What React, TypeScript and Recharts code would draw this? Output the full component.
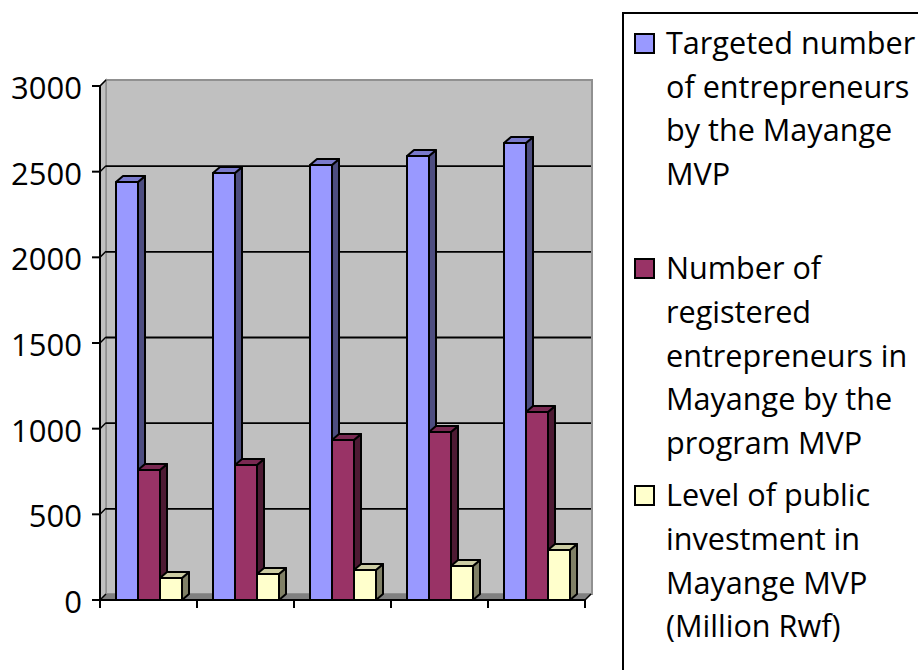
import { BarChart, Bar, XAxis, YAxis, Legend, ReferenceArea } from "recharts";

const categories = ["A", "B", "C", "D", "E"];
const targeted = [2440, 2492, 2539, 2591, 2667];
const registered = [759, 788, 934, 981, 1097];
const investment = [128, 152, 175, 198, 292];
const yTicks = [0, 500, 1000, 1500, 2000, 2500, 3000];

const seriesLines = [
  ["Targeted number", "of entrepreneurs", "by the Mayange", "MVP"],
  ["Number of", "registered", "entrepreneurs in", "Mayange by the", "program MVP"],
  ["Level of public", "investment in", "Mayange MVP", "(Million Rwf)"],
];

const seriesNames = seriesLines.map((lines) => lines.join(" "));
const seriesKeys = ["targeted", "registered", "investment"];
const seriesColors = ["#9999FF", "#993366", "#FFFFCC"];
const topColors = ["#7A7ACC", "#7A2952", "#CCCCA3"];
const sideColors = ["#4D4D80", "#4D1A33", "#808066"];

const data = categories.map((name, i) => ({
  name,
  targeted: targeted[i],
  registered: registered[i],
  investment: investment[i],
}));

const DEPTH_X = 7;
const DEPTH_Y = 6;
const FONT = '"Open Sans", sans-serif';

// back wall, side wall and floor, gridlines sit on the back wall
function Walls({ x, y, width, height }: any) {
  const dx = 6;
  const dy = 6;
  const bottom = y + height;
  const right = x + width;
  return (
    <g>
      <rect x={x + dx} y={y - dy} width={width + 1} height={height} fill="#C0C0C0" stroke="#909090" strokeWidth={2} />
      <polygon
        points={`${x},${y} ${x + dx},${y - dy} ${x + dx},${bottom - dy} ${x},${bottom}`}
        fill="#C0C0C0"
        stroke="#909090"
        strokeWidth={1.5}
      />
      <polygon
        points={`${x},${bottom} ${x + dx},${bottom - dy} ${right + dx + 1},${bottom - dy} ${right},${bottom}`}
        fill="#808080"
      />
      {yTicks.map((t) => {
        const ty = bottom - (t / 3000) * height;
        return (
          <g key={t}>
            {t > 0 && t < 3000 && <line x1={x + dx} y1={ty - dy + 0.5} x2={right + dx} y2={ty - dy + 0.5} stroke="#000" strokeWidth={1.8} />}
            <line x1={x} y1={ty} x2={x + dx} y2={ty - dy} stroke="#000" strokeWidth={1.5} />
          </g>
        );
      })}
      {categories.map((c, i) => (
        <line key={c} x1={x + (width * (i + 1)) / 5} y1={bottom} x2={x + (width * (i + 1)) / 5} y2={bottom + 8} stroke="#000" strokeWidth={2} />
      ))}
      <line x1={x} y1={bottom} x2={x} y2={bottom + 8} stroke="#000" strokeWidth={2} />
      <line x1={right} y1={bottom} x2={right + dx} y2={bottom - dy} stroke="#000" strokeWidth={1.5} />
    </g>
  );
}

function makeBar(i: number) {
  return function Bar3D({ x, y, width, height }: any) {
    const r = x + width;
    const b = y + height;
    return (
      <g stroke="#000" strokeWidth={2} strokeLinejoin="round">
        <polygon points={`${r},${y} ${r + DEPTH_X},${y - DEPTH_Y} ${r + DEPTH_X},${b - DEPTH_Y} ${r},${b}`} fill={sideColors[i]} />
        <polygon points={`${x},${y} ${x + DEPTH_X},${y - DEPTH_Y} ${r + DEPTH_X},${y - DEPTH_Y} ${r},${y}`} fill={topColors[i]} />
        <rect x={x} y={y} width={width} height={height} fill={seriesColors[i]} />
      </g>
    );
  };
}

function LegendBox() {
  const gaps = [0, 51, 9];
  return (
    <div
      style={{
        boxSizing: "border-box",
        width: 320,
        height: 700,
        border: "2px solid #000",
        background: "#fff",
        paddingTop: 7,
        fontFamily: FONT,
        fontSize: 30.6,
        lineHeight: "43.6px",
        color: "#000",
      }}
    >
      {seriesLines.map((lines, i) => (
        <div key={i} style={{ position: "relative", paddingLeft: 42, marginTop: gaps[i], whiteSpace: "nowrap" }}>
          <span
            style={{
              position: "absolute",
              left: 10,
              top: 12,
              width: 21,
              height: 21,
              boxSizing: "border-box",
              border: "2px solid #000",
              background: seriesColors[i],
            }}
          />
          {lines.map((l) => (
            <div key={l}>{l}</div>
          ))}
        </div>
      ))}
    </div>
  );
}

export default function App() {
  return (
    <div style={{ position: "absolute", left: 0, top: 0, width: 918, height: 670, overflow: "hidden", background: "#fff" }}>
      <BarChart
        width={918}
        height={670}
        data={data}
        margin={{ top: 86, right: 333, bottom: 0, left: 0 }}
        barCategoryGap={16}
        barGap={0}
      >
        <XAxis dataKey="name" tick={false} tickLine={false} axisLine={{ stroke: "#000", strokeWidth: 2 }} height={70} />
        <YAxis
          width={100}
          domain={[0, 3000]}
          ticks={yTicks}
          interval={0}
          tickSize={8}
          tickMargin={10}
          axisLine={{ stroke: "#000", strokeWidth: 2 }}
          tickLine={{ stroke: "#000", strokeWidth: 2 }}
          tick={{ fill: "#000", fontFamily: FONT, fontSize: 31, dy: 2 }}
        />
        <ReferenceArea y1={0} y2={3000} shape={<Walls />} ifOverflow="visible" />
        {seriesKeys.map((k, i) => (
          <Bar
            key={k}
            dataKey={k}
            name={seriesNames[i]}
            fill={seriesColors[i]}
            shape={makeBar(i)}
            isAnimationActive={false}
          />
        ))}
        <Legend
          content={<LegendBox />}
          layout="vertical"
          align="center"
          verticalAlign="middle"
          wrapperStyle={{ position: "absolute", left: 622, top: 12, width: 320, height: 700, margin: 0 }}
        />
      </BarChart>
    </div>
  );
}
